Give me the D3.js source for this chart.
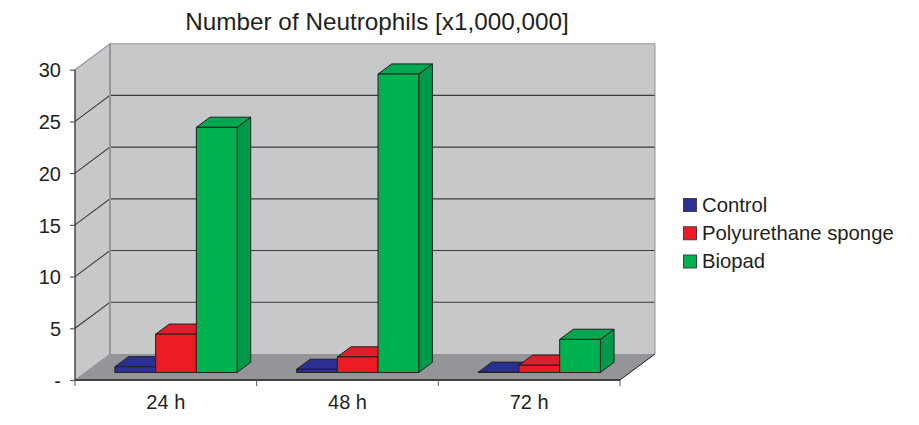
<!DOCTYPE html>
<html><head><meta charset="utf-8">
<script src="https://cdn.jsdelivr.net/npm/d3@7/dist/d3.min.js"></script>
<style>html,body{margin:0;padding:0;background:#fff}svg{display:block}text{font-family:"Liberation Sans",Arial,sans-serif;fill:#231f20}</style>
</head><body><svg id="c" width="919" height="425"></svg>
<script>
const categories = ["24 h","48 h","72 h"];
const seriesNames = ["Control","Polyurethane sponge","Biopad"];
const control = [0.55,0.3,0.02];
const polyurethane = [3.7,1.5,0.7];
const biopad = [23.7,28.85,3.2];
const yTicks = [0,5,10,15,20,25,30];
const faceColors = ["#2e3192","#ed1c24","#00b14f"];
const topColors = ["#2b3090","#de1e2c","#00a94f"];
const sideColors = ["#252a78","#b5151b","#00984a"];

const svg = d3.select("#c");
const ink = "#231f20", wallEdge = "#939598";
const dx = 35, dy = -26;          // full chart depth
const barFront = 0.29, barDepth = 0.39; // bar position in depth
const x = d3.scaleBand().domain(categories).range([75,620]);
const y = d3.scaleLinear().domain([0,30]).range([380,69.7]);
const inner = d3.scaleBand().domain(d3.range(3)).range([0,122.2]);
const line = d3.line();
const X0=75,X1=620,Y0=y(0),YT=y(30);

// walls and floor
const poly=(pts,fill,stroke,sw)=>svg.append("polygon").attr("points",pts.map(p=>p.join(",")).join(" ")).attr("fill",fill).attr("stroke",stroke||"none").attr("stroke-width",sw||0);
poly([[X0+dx,Y0+dy],[X1+dx,Y0+dy],[X1+dx,YT+dy],[X0+dx,YT+dy]],"#c7c8ca");
poly([[X0,Y0],[X0+dx,Y0+dy],[X0+dx,YT+dy],[X0,YT]],"#c7c8ca");
poly([[X0,Y0],[X1,Y0],[X1+dx,Y0+dy],[X0+dx,Y0+dy]],"#939598");

// gridlines
svg.append("g").selectAll("path").data(yTicks.slice(1,-1)).join("path")
  .attr("d",v=>line([[X0,y(v)],[X0+dx,y(v)+dy],[X1+dx,y(v)+dy]]))
  .attr("fill","none").attr("stroke","#3a3a3c").attr("stroke-width",1.1);

// wall edges
const seg=(a,c,w)=>svg.append("path").attr("d",line(a)).attr("fill","none").attr("stroke",c).attr("stroke-width",w);
seg([[X0,YT],[X0+dx,YT+dy],[X1+dx,YT+dy]],wallEdge,1.1);
seg([[X0+dx,YT+dy],[X0+dx,Y0+dy]],wallEdge,2);
seg([[X0,Y0],[X0+dx,Y0+dy]],wallEdge,1);
seg([[X1,Y0],[X1+dx,Y0+dy]],ink,1);
seg([[X1+dx,YT+dy],[X1+dx,Y0+dy]],wallEdge,1);

// bars
const series=[control,polyurethane,biopad];
const base=y(0);
categories.forEach((c,ci)=>{
  const gap=(x.bandwidth()-inner.range()[1])/2;
  series.forEach((vals,si)=>{
    const l=x(c)+gap+inner(si)+dx*barFront, w=inner.bandwidth();
    const b=base+dy*barFront, h=base-y(vals[ci]), t=b-h;
    const ox=dx*barDepth, oy=dy*barDepth;
    const g=svg.append("g").attr("stroke",ink).attr("stroke-width",1).attr("stroke-linejoin","round");
    g.append("polygon").attr("fill",sideColors[si]).attr("points",[[l+w,b],[l+w+ox,b+oy],[l+w+ox,t+oy],[l+w,t]].join(" "));
    g.append("polygon").attr("fill",topColors[si]).attr("points",[[l,t],[l+ox,t+oy],[l+w+ox,t+oy],[l+w,t]].join(" "));
    g.append("rect").attr("fill",faceColors[si]).attr("x",l).attr("y",t).attr("width",w).attr("height",h);
  });
});

// axes
const yAxis=d3.axisLeft(y).tickValues(yTicks).tickSize(9).tickPadding(4).tickFormat(v=>v===0?"-":v);
const ya=svg.append("g").attr("transform",`translate(${X0},0)`).call(yAxis);
ya.selectAll(".domain").attr("stroke",ink).attr("stroke-width",1.2).attr("d",`M0,${YT}V${Y0}`);
ya.selectAll("line").attr("stroke","#58595b").attr("stroke-width",1.2).attr("x2",-5);
ya.selectAll("text").style("font-size","20px").attr("dy","0.36em").attr("x",-14);

const xa=svg.append("g").attr("transform",`translate(0,${Y0})`).call(d3.axisBottom(x).tickSize(0).tickPadding(15));
xa.selectAll(".domain").attr("stroke","#414042").attr("stroke-width",2).attr("d",`M${X0},0H${X1}`);
xa.selectAll("text").style("font-size","20px");
const bounds=[...categories.map(c=>x(c)),X1];
svg.append("g").selectAll("line").data(bounds).join("line")
  .attr("x1",d=>d).attr("x2",d=>d).attr("y1",Y0).attr("y2",Y0+6).attr("stroke","#58595b").attr("stroke-width",1);

// title
svg.append("text").attr("x",377).attr("y",30).attr("text-anchor","middle").style("font-size","24.3px").text("Number of Neutrophils [x1,000,000]");

// legend
const ly=d3.scalePoint().domain(seriesNames).range([204.5,261]);
const lg=svg.append("g").selectAll("g").data(seriesNames).join("g").attr("transform",d=>`translate(0,${ly(d)})`);
lg.append("rect").attr("x",683.5).attr("y",-6).attr("width",13).attr("height",13).attr("fill",(d,i)=>faceColors[i]).attr("stroke","#414042").attr("stroke-width",1);
lg.append("text").attr("x",702).attr("y",0).attr("dy","0.36em").style("font-size","20.3px").text(d=>d);
</script></body></html>
